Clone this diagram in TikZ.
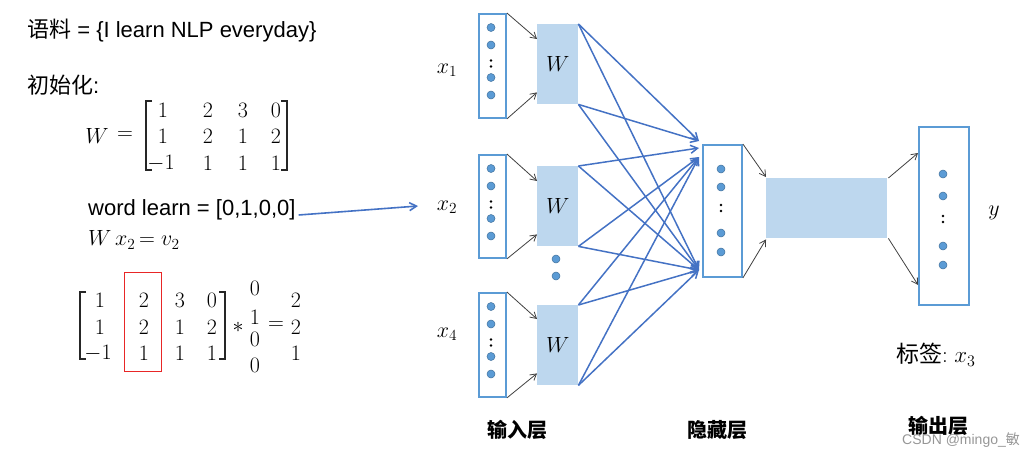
\RequirePackage{fix-cm}
\documentclass[tikz,border=0pt]{standalone}
\usepackage{fontspec}
\setmainfont{Liberation Sans}
\newfontfamily\cjk{Noto Sans CJK SC}
\usetikzlibrary{arrows.meta,calc}
\definecolor{lineblue}{RGB}{68,114,196}
\definecolor{boxblue}{RGB}{91,155,213}
\definecolor{fillblue}{RGB}{189,215,238}
\definecolor{dotedge}{RGB}{65,113,156}
\definecolor{redbox}{RGB}{232,38,38}
\definecolor{wmgray}{RGB}{150,150,150}
\begin{document}
\begin{tikzpicture}[x=1pt,y=-1pt,
  font=\fontsize{22}{26}\selectfont,
  vecbox/.style={draw=boxblue,line width=1.9pt,fill=white,inner sep=0pt,anchor=north west},
  wbox/.style={fill=fillblue,inner sep=0pt,anchor=north west},
  vdot/.style={fill=boxblue,draw=dotedge,line width=0.5pt},
  garrow/.style={draw=black!75,line width=0.8pt,-{Straight Barb[length=6pt,width=7pt]}},
  barrow/.style={draw=lineblue,line width=1.5pt,-{Straight Barb[length=7pt,width=8pt]}},
  bracket/.style={draw=black!85,line width=1.2pt},
  num/.style={inner sep=0pt},
  layer/.style={font=\fontsize{20}{24}\selectfont\cjk\bfseries,inner sep=0pt}
]
\useasboundingbox (0,0) rectangle (1035,455);

% ---------- left text ----------
\node[anchor=west,inner sep=0pt] (corpus) at (27,31) {{\cjk 语料} = \{I learn NLP everyday\}};
\node[anchor=west,inner sep=0pt] (init) at (27,85) {{\cjk 初始化}:};
\node[num] (Wlab) at (97,136) {$W$};
\node[num] (Weq) at (125,136) {$=$};
\node[num] (tn11) at (163,110) {$1$};
\node[num] (tn12) at (208,110) {$2$};
\node[num] (tn13) at (243,110) {$3$};
\node[num] (tn14) at (276,110) {$0$};
\node[num] (tn21) at (163,136.5) {$1$};
\node[num] (tn22) at (208,136.5) {$2$};
\node[num] (tn23) at (243,136.5) {$1$};
\node[num] (tn24) at (276,136.5) {$2$};
\node[num] (tn31) at (161,163) {$-1$};
\node[num] (tn32) at (208,163) {$1$};
\node[num] (tn33) at (243,163) {$1$};
\node[num] (tn34) at (276,163) {$1$};
\draw[bracket] (152,101) -- (146,101) -- (146,170) -- (152,170);
\draw[bracket] (281,101) -- (287,101) -- (287,170) -- (281,170);

\node[anchor=west,inner sep=0pt] (word) at (88,210) {word learn = [0,1,0,0]};
\node[anchor=west,inner sep=0pt] (wx) at (88,240) {$W\,x_2\,{=}\;v_2$};

% bottom product
\node[num] (b11) at (100,300) {$1$};
\node[num] (b12) at (144,300) {$2$};
\node[num] (b13) at (180,300) {$3$};
\node[num] (b14) at (212,300) {$0$};
\node[num] (b21) at (100,327) {$1$};
\node[num] (b22) at (144,327) {$2$};
\node[num] (b23) at (180,327) {$1$};
\node[num] (b24) at (212,327) {$2$};
\node[num] (b31) at (98,353) {$-1$};
\node[num] (b32) at (144,353) {$1$};
\node[num] (b33) at (180,353) {$1$};
\node[num] (b34) at (212,353) {$1$};
\draw[bracket] (86,292) -- (80,292) -- (80,359) -- (86,359);
\draw[bracket] (219,292) -- (225,292) -- (225,359) -- (219,359);
\node[draw=redbox,line width=1.4pt,inner sep=0pt,minimum width=37pt,minimum height=99pt,anchor=north west] (redrect) at (124,272) {};
\node[num] (star) at (238,327) {$*$};
\node[num] (v1) at (255,288) {$0$};
\node[num] (v2) at (255,317) {$1$};
\node[num] (v3) at (255,339) {$0$};
\node[num] (v4) at (255,365) {$0$};
\node[num] (peq) at (276,326) {$=$};
\node[num] (r1) at (296,300) {$2$};
\node[num] (r2) at (296,327) {$2$};
\node[num] (r3) at (296,353) {$1$};

% ---------- network ----------
\node[vecbox,minimum width=27pt,minimum height=104pt] (in1) at (478,13) {};
\node[vecbox,minimum width=27pt,minimum height=103pt] (in2) at (478,154) {};
\node[vecbox,minimum width=27pt,minimum height=104pt] (in4) at (478,292) {};
\foreach \t in {13,154,292}{
  \foreach \d in {14.5,32,64.5,82} \filldraw[vdot] (491,\t+\d) circle (4);
  \fill (491,\t+47.5) circle (1.3);
  \fill (491,\t+53.5) circle (1.3);
}
\node[wbox,minimum width=41pt,minimum height=80pt] (w1) at (537,24) {};
\node[wbox,minimum width=41pt,minimum height=80pt] (w2) at (537,166) {};
\node[wbox,minimum width=41pt,minimum height=80pt] (w4) at (537,305) {};
\node (w1l) at (w1.center) {$W$};
\node (w2l) at (w2.center) {$W$};
\node (w4l) at (w4.center) {$W$};
\filldraw[vdot] (556,259) circle (4);
\filldraw[vdot] (556,276) circle (4);

\node (x1) at (447,70) {$x_1$};
\node (x2) at (447,207) {$x_2$};
\node (x4) at (447,334) {$x_4$};

\node[vecbox,minimum width=39pt,minimum height=132pt] (hid) at (702,144) {};
\foreach \y in {169,187,233,252} \filldraw[vdot] (721,\y) circle (4);
\fill (721,205) circle (1.3);
\fill (721,211) circle (1.3);

\node[wbox,minimum width=121pt,minimum height=60pt] (wh) at (766,178) {};

\node[vecbox,minimum width=50pt,minimum height=178pt] (out) at (918,126) {};
\foreach \y in {174,196,246,265} \filldraw[vdot] (943,\y) circle (4);
\fill (943,216) circle (1.3);
\fill (943,222) circle (1.3);

\node (ylab) at (994,213) {$y$};
\node[anchor=west,inner sep=0pt,font=\fontsize{23}{26}\selectfont] (tag) at (896,355) {{\cjk 标签}$:x_3$};

% black arrows
\draw[garrow] (in1.north east) -- ([yshift=-15pt]w1.north west);
\draw[garrow] (in1.south east) -- ([yshift=12pt]w1.south west);
\draw[garrow] (in2.north east) -- ([yshift=-15pt]w2.north west);
\draw[garrow] (in2.south east) -- ([yshift=12pt]w2.south west);
\draw[garrow] (in4.north east) -- ([yshift=-14pt]w4.north west);
\draw[garrow] (in4.south east) -- ([yshift=12pt]w4.south west);
\draw[garrow] (hid.north east) -- ([yshift=1pt]wh.north west);
\draw[garrow] (hid.south east) -- ([yshift=-1pt]wh.south west);
\draw[garrow] ([xshift=1pt]wh.north east) -- ([yshift=-27pt]out.north west);
\draw[garrow] ([xshift=1pt]wh.south east) -- ([yshift=21pt]out.south west);

% blue arrows to hidden layer
\coordinate (ht1) at (699,141);
\coordinate (ht2) at (699,148);
\coordinate (ht4) at (699,157);
\coordinate (hb) at (699,270);
\foreach \s/\t in {w1.north east/ht1, w1.north east/hb, w1.south east/ht1, w1.south east/hb,
                   w2.north east/ht2, w2.north east/hb, w2.south east/ht4, w2.south east/hb,
                   w4.north east/ht4, w4.north east/hb, w4.south east/ht4, w4.south east/hb}
  \draw[barrow] (\s) -- (\t);

% word arrow
\coordinate (wordend) at (418,206);
\draw[barrow,line width=1.6pt] ([xshift=3pt,yshift=-5pt]word.east) -- (wordend);

% layer labels
\node[layer] (l1) at (517,430) {输入层};
\node[layer] (l2) at (717,430) {隐藏层};
\node[layer] (l3) at (938,426) {输出层};
\node[anchor=west,inner sep=0pt,text=wmgray,font=\fontsize{14}{16}\selectfont] (wm) at (902,440) {CSDN @mingo\_{\cjk 敏}};
\end{tikzpicture}
\end{document}
